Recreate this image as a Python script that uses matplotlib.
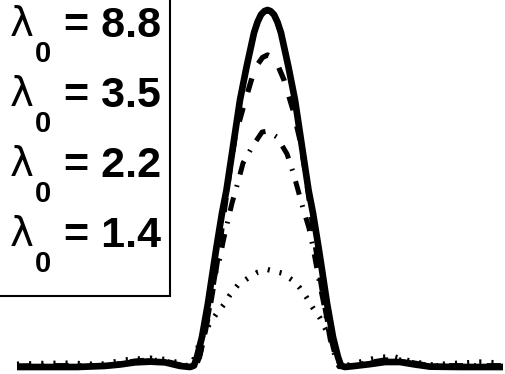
import matplotlib
matplotlib.use("Agg")
import matplotlib.pyplot as plt
from matplotlib.patches import Rectangle

# Focal-plane intensity profiles for four values of lambda_0
lambda0 = ["8.8", "3.5", "2.2", "1.4"]

x_88 = [-5.01, -4.40, -3.80, -3.25, -2.95, -2.65, -2.35, -2.05, -1.75, -1.55,
        -1.47, -1.41, -1.31, -1.19, -1.09, -1.02, -0.91, -0.82, -0.70, -0.55,
        -0.42, -0.27, -0.20, -0.13, -0.06, 0.00, 0.06, 0.13, 0.20, 0.27,
        0.42, 0.55, 0.70, 0.82, 0.91, 1.02, 1.09, 1.19, 1.31, 1.41,
        1.47, 1.55, 1.75, 2.05, 2.35, 2.65, 2.95, 3.25, 3.85, 4.71]
i_88 = [0.000, 0.000, 0.000, 0.003, 0.007, 0.013, 0.015, 0.013, 0.003, 0.000,
        0.004, 0.028, 0.084, 0.179, 0.272, 0.336, 0.431, 0.496, 0.608, 0.748,
        0.840, 0.936, 0.966, 0.987, 0.997, 1.000, 0.997, 0.987, 0.966, 0.936,
        0.840, 0.748, 0.608, 0.496, 0.431, 0.336, 0.272, 0.179, 0.084, 0.028,
        0.004, 0.000, 0.003, 0.008, 0.014, 0.014, 0.007, 0.001, 0.000, 0.000]

x_35 = [-5.01, -4.40, -3.80, -3.25, -2.95, -2.65, -2.35, -2.05, -1.75, -1.55,
        -1.43, -1.37, -1.28, -1.17, -1.07, -0.97, -0.87, -0.75, -0.65, -0.49,
        -0.31, -0.20, -0.10, 0.00, 0.10, 0.20, 0.33, 0.51, 0.65, 0.75,
        0.87, 0.97, 1.07, 1.17, 1.28, 1.37, 1.43, 1.55, 1.75, 2.05,
        2.35, 2.65, 2.95, 3.25, 3.85, 4.71]
i_35 = [0.001, 0.001, 0.001, 0.003, 0.008, 0.014, 0.017, 0.014, 0.004, 0.000,
        0.003, 0.025, 0.076, 0.151, 0.235, 0.328, 0.431, 0.552, 0.644, 0.725,
        0.810, 0.847, 0.867, 0.874, 0.867, 0.847, 0.804, 0.720, 0.636, 0.552,
        0.431, 0.328, 0.235, 0.151, 0.076, 0.025, 0.003, 0.000, 0.004, 0.010,
        0.016, 0.016, 0.008, 0.002, 0.001, 0.001]

x_22 = [-5.01, -4.40, -3.80, -3.25, -2.95, -2.65, -2.35, -2.05, -1.75, -1.55,
        -1.43, -1.37, -1.27, -1.15, -1.05, -0.95, -0.89, -0.79, -0.71, -0.59,
        -0.49, -0.31, -0.11, 0.00, 0.19, 0.39, 0.51, 0.61, 0.71, 0.83,
        0.91, 1.01, 1.13, 1.25, 1.37, 1.43, 1.55, 1.75, 2.05, 2.35,
        2.65, 2.95, 3.25, 3.85, 4.71]
i_22 = [0.003, 0.004, 0.004, 0.004, 0.010, 0.017, 0.020, 0.017, 0.006, 0.001,
        0.001, 0.020, 0.081, 0.174, 0.258, 0.305, 0.350, 0.412, 0.459, 0.518,
        0.571, 0.616, 0.658, 0.661, 0.644, 0.597, 0.546, 0.496, 0.445, 0.389,
        0.336, 0.258, 0.174, 0.081, 0.020, 0.001, 0.001, 0.006, 0.013, 0.020,
        0.020, 0.011, 0.004, 0.004, 0.004]

x_14 = [-5.01, -4.55, -3.95, -3.35, -2.85, -2.35, -1.95, -1.70, -1.55, -1.49,
        -1.41, -1.31, -1.15, -1.01, -0.85, -0.75, -0.59, -0.39, -0.19, 0.00,
        0.29, 0.49, 0.65, 0.79, 0.91, 1.05, 1.19, 1.31, 1.39, 1.47,
        1.55, 1.85, 2.25, 2.55, 2.85, 3.25, 3.85, 4.25, 4.71]
i_14 = [0.008, 0.010, 0.011, 0.007, 0.020, 0.025, 0.020, 0.006, 0.003, 0.014,
        0.048, 0.084, 0.123, 0.151, 0.179, 0.202, 0.230, 0.249, 0.266, 0.273,
        0.263, 0.244, 0.221, 0.193, 0.165, 0.137, 0.098, 0.062, 0.025, 0.003,
        0.003, 0.014, 0.028, 0.028, 0.017, 0.006, 0.011, 0.014, 0.011]

W, H = 506, 374
fig = plt.figure(figsize=(W / 100, H / 100), dpi=100)
ax = fig.add_axes([0, 0, 1, 1])
ax.set_axis_off()

ax.plot(x_88, i_88, color="black", lw=4.8, solid_joinstyle="round",
        solid_capstyle="butt")
ax.plot(x_35, i_35, color="black", lw=3.8, linestyle=(0, (2.7, 3.1)),
        dash_capstyle="butt")
ax.plot(x_22, i_22, color="black", lw=3.6,
        linestyle=(0, (2.8, 2.2, 0.35, 2.2)), dash_capstyle="butt")
ax.plot(x_14, i_14, color="black", lw=3.8, linestyle=(0, (0.4, 1.9)),
        dash_capstyle="butt")

ax.set_xlim(-5.35, 4.77)
ax.set_ylim(-0.0196, 1.028)


def fx(px):
    return px / W


def fy(py):
    return 1 - py / H


# Legend box (its left and top edges lie beyond the figure)
frame = Rectangle((fx(-20), fy(296)), fx(170) - fx(-20), 1.2,
                  transform=fig.transFigure, fill=False, edgecolor="black",
                  lw=1.5, clip_on=False)
fig.patches.append(frame)

font = dict(family="Liberation Sans", weight="bold", color="black")
for k, lab in enumerate(lambda0):
    base = 37 + 70 * k
    fig.text(fx(10), fy(base - 1), "\u03bb", fontsize=29, ha="left",
             va="baseline", family="DejaVu Sans", color="black")
    fig.text(fx(35), fy(base + 25), "0", fontsize=21, ha="left",
             va="baseline", **font)
    fig.text(fx(64), fy(base), "= " + lab, fontsize=31, ha="left",
             va="baseline", **font)

fig.savefig("out.png", dpi=100)
